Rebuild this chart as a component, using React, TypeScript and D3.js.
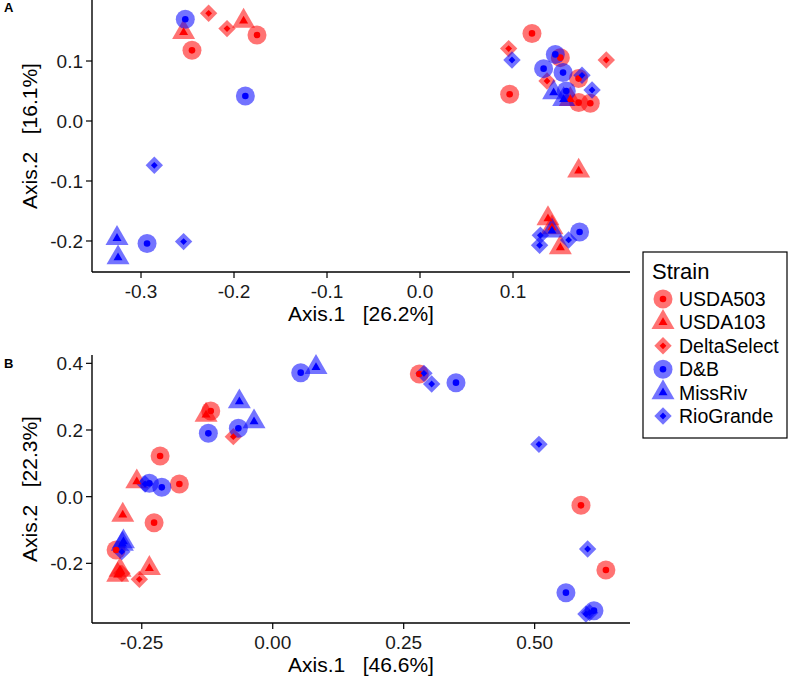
import React from "react";
import * as d3 from "d3";

type Strain = "USDA503" | "USDA103" | "DeltaSelect" | "D&B" | "MissRiv" | "RioGrande";

const strains: Strain[] = ["USDA503", "USDA103", "DeltaSelect", "D&B", "MissRiv", "RioGrande"];
const strainColor: Record<Strain, string> = {
  USDA503: "#FF0000", USDA103: "#FF0000", DeltaSelect: "#FF0000",
  "D&B": "#0000FF", MissRiv: "#0000FF", RioGrande: "#0000FF",
};
const strainShape: Record<Strain, string> = {
  USDA503: "circle", USDA103: "triangle", DeltaSelect: "diamond",
  "D&B": "circle", MissRiv: "triangle", RioGrande: "diamond",
};

// Panel A (Axis.1 26.2%, Axis.2 16.1%)
const panelA: [Strain, number, number][] = [
  ["USDA503", -0.1753, 0.1433], ["USDA503", -0.2452, 0.1178], ["USDA503", 0.1204, 0.146],
  ["USDA503", 0.0964, 0.0445], ["USDA503", 0.1706, 0.0307], ["USDA503", 0.1831, 0.0295],
  ["USDA503", 0.1509, 0.1056], ["USDA503", 0.1705, 0.0707],
  ["USDA103", -0.2542, 0.1478], ["USDA103", -0.1897, 0.1667], ["USDA103", 0.1616, 0.036],
  ["USDA103", 0.1706, -0.0833], ["USDA103", 0.1376, -0.1627], ["USDA103", 0.1509, -0.211],
  ["USDA103", 0.1419, -0.1777],
  ["DeltaSelect", -0.2273, 0.1795], ["DeltaSelect", -0.2075, 0.154], ["DeltaSelect", 0.0953, 0.1207],
  ["DeltaSelect", 0.2003, 0.1017], ["DeltaSelect", 0.1366, 0.0667],
  ["D&B", -0.2524, 0.1695], ["D&B", -0.1878, 0.0417], ["D&B", 0.1455, 0.111],
  ["D&B", 0.1329, 0.0873], ["D&B", 0.1538, 0.0807], ["D&B", 0.1573, 0.05],
  ["D&B", -0.2935, -0.2043], ["D&B", 0.1716, -0.185],
  ["MissRiv", 0.1437, 0.0473], ["MissRiv", 0.1545, 0.036], ["MissRiv", -0.3258, -0.1955],
  ["MissRiv", -0.3247, -0.2278], ["MissRiv", 0.1419, -0.1833],
  ["RioGrande", 0.0989, 0.1017], ["RioGrande", 0.185, 0.0517], ["RioGrande", 0.1742, 0.0762],
  ["RioGrande", -0.2857, -0.0738], ["RioGrande", -0.2542, -0.201], ["RioGrande", 0.1294, -0.1905],
  ["RioGrande", 0.1286, -0.2072], ["RioGrande", 0.1598, -0.1983],
];

// Panel B (Axis.1 46.6%, Axis.2 22.3%)
const panelB: [Strain, number, number][] = [
  ["USDA503", -0.1183, 0.257], ["USDA503", -0.215, 0.122], ["USDA503", -0.1782, 0.038],
  ["USDA503", -0.2265, -0.078], ["USDA503", -0.299, -0.16], ["USDA503", 0.2798, 0.368],
  ["USDA503", 0.5884, -0.026], ["USDA503", 0.636, -0.22],
  ["USDA103", -0.1273, 0.245], ["USDA103", -0.2595, 0.045], ["USDA103", -0.2863, -0.055],
  ["USDA103", -0.2914, -0.22], ["USDA103", -0.2355, -0.215], ["USDA103", -0.296, -0.235],
  ["DeltaSelect", -0.0752, 0.18], ["DeltaSelect", -0.288, -0.23], ["DeltaSelect", -0.2546, -0.248],
  ["D&B", -0.1229, 0.19], ["D&B", -0.0656, 0.205], ["D&B", -0.2355, 0.04], ["D&B", -0.2118, 0.028],
  ["D&B", 0.0534, 0.372], ["D&B", 0.3498, 0.342], ["D&B", 0.5597, -0.288], ["D&B", 0.6132, -0.342],
  ["MissRiv", -0.0637, 0.285], ["MissRiv", -0.0357, 0.225], ["MissRiv", -0.285, -0.135],
  ["MissRiv", -0.287, -0.142], ["MissRiv", 0.0826, 0.388],
  ["RioGrande", -0.2437, 0.038], ["RioGrande", -0.288, -0.165], ["RioGrande", 0.2887, 0.37],
  ["RioGrande", 0.3034, 0.338], ["RioGrande", 0.5082, 0.157], ["RioGrande", 0.6011, -0.157],
  ["RioGrande", 0.5979, -0.352], ["RioGrande", 0.605, -0.348],
];

const ticksAX = [-0.3, -0.2, -0.1, 0.0, 0.1];
const ticksAY = [-0.2, -0.1, 0.0, 0.1];
const ticksBX = [-0.25, 0.0, 0.25, 0.5];
const ticksBY = [-0.2, 0.0, 0.2, 0.4];

const FONT = "'Liberation Sans', Arial, Helvetica, sans-serif";

function shapePath(shape: string, big: boolean): string {
  if (shape === "circle") {
    const r = big ? 9.5 : 3.3;
    return `M${-r},0A${r},${r},0,1,0,${r},0A${r},${r},0,1,0,${-r},0Z`;
  }
  if (shape === "triangle") {
    const s = big ? 23 : 9;
    const h = (s * Math.sqrt(3)) / 2;
    const cy = h / 3;
    return `M0,${-(h - cy)}L${s / 2},${cy}L${-s / 2},${cy}Z`;
  }
  const d = big ? 8.7 : 3.4;
  return `M0,${-d}L${d},0L0,${d}L${-d},0Z`;
}

function fmt(v: number, digits: number) {
  return Math.abs(v) < 1e-9 ? (0).toFixed(digits) : v.toFixed(digits);
}

type PanelProps = {
  data: [Strain, number, number][];
  xDomain: [number, number];
  yDomain: [number, number];
  left: number; right: number; top: number; bottom: number;
  xTicks: number[]; yTicks: number[]; digitsX: number; digitsY: number;
  xTitle: string; yTitle: string; label: string; labelY: number;
};

function Panel(p: PanelProps) {
  const x = d3.scaleLinear().domain(p.xDomain).range([p.left, p.right]);
  const y = d3.scaleLinear().domain(p.yDomain).range([p.bottom, p.top]);
  const midX = (p.left + p.right) / 2;
  const midY = (p.top + p.bottom) / 2;
  return (
    <g>
      <text x={4} y={p.labelY} fontFamily={FONT} fontWeight="bold" fontSize={13}>{p.label}</text>
      {p.data.map((d, i) => (
        <path key={"b" + i} d={shapePath(strainShape[d[0]], true)} transform={`translate(${x(d[1])},${y(d[2])})`}
          fill={strainColor[d[0]]} fillOpacity={0.55} />
      ))}
      {p.data.map((d, i) => (
        <path key={"s" + i} d={shapePath(strainShape[d[0]], false)} transform={`translate(${x(d[1])},${y(d[2])})`}
          fill={strainColor[d[0]]} />
      ))}
      <line x1={p.left} x2={p.left} y1={p.top} y2={p.bottom} stroke="black" strokeWidth={1.4} />
      <line x1={p.left} x2={p.right} y1={p.bottom} y2={p.bottom} stroke="black" strokeWidth={1.4} />
      {p.xTicks.map((t) => (
        <g key={"xt" + t}>
          <line x1={x(t)} x2={x(t)} y1={p.bottom} y2={p.bottom + 6} stroke="black" strokeWidth={1.2} />
          <text x={x(t)} y={p.bottom + 26} textAnchor="middle" fontFamily={FONT} fontSize={19} fill="#1a1a1a">{fmt(t, p.digitsX)}</text>
        </g>
      ))}
      {p.yTicks.map((t) => (
        <g key={"yt" + t}>
          <line x1={p.left - 6} x2={p.left} y1={y(t)} y2={y(t)} stroke="black" strokeWidth={1.2} />
          <text x={p.left - 9} y={y(t) + 7} textAnchor="end" fontFamily={FONT} fontSize={19} fill="#1a1a1a">{fmt(t, p.digitsY)}</text>
        </g>
      ))}
      <text x={midX} y={p.bottom + 49} textAnchor="middle" fontFamily={FONT} fontSize={21} xmlSpace="preserve">{p.xTitle}</text>
      <text transform={`translate(37,${midY}) rotate(-90)`} textAnchor="middle" fontFamily={FONT} fontSize={21} xmlSpace="preserve">{p.yTitle}</text>
    </g>
  );
}

function Legend() {
  const lx = 643, ly = 252, w = 144, h = 186;
  return (
    <g>
      <rect x={lx} y={ly} width={w} height={h} fill="white" stroke="black" strokeWidth={1.2} />
      <text x={lx + 9} y={ly + 27} fontFamily={FONT} fontSize={22}>Strain</text>
      {strains.map((s, i) => {
        const cy = ly + 47 + i * 23.4;
        return (
          <g key={s}>
            <path d={shapePath(strainShape[s], true)} transform={`translate(${lx + 20},${cy})`} fill={strainColor[s]} fillOpacity={0.55} />
            <path d={shapePath(strainShape[s], false)} transform={`translate(${lx + 20},${cy})`} fill={strainColor[s]} />
            <text x={lx + 36} y={cy + 7} fontFamily={FONT} fontSize={19.5}>{s}</text>
          </g>
        );
      })}
    </g>
  );
}

export default function App() {
  return (
    <svg width={793} height={687} style={{ position: "absolute", left: 0, top: 0, background: "white" }}>
      <rect width={793} height={687} fill="white" />
      <Panel data={panelA} xDomain={[-0.3527, 0.2258]} yDomain={[-0.2517, 0.2017]}
        left={92} right={630} top={0} bottom={272}
        xTicks={ticksAX} yTicks={ticksAY} digitsX={1} digitsY={1}
        xTitle={"Axis.1   [26.2%]"} yTitle={"Axis.2   [16.1%]"} label="A" labelY={12} />
      <Panel data={panelB} xDomain={[-0.345, 0.682]} yDomain={[-0.379, 0.425]}
        left={92} right={630} top={355} bottom={623}
        xTicks={ticksBX} yTicks={ticksBY} digitsX={2} digitsY={1}
        xTitle={"Axis.1   [46.6%]"} yTitle={"Axis.2   [22.3%]"} label="B" labelY={368} />
      <Legend />
    </svg>
  );
}
